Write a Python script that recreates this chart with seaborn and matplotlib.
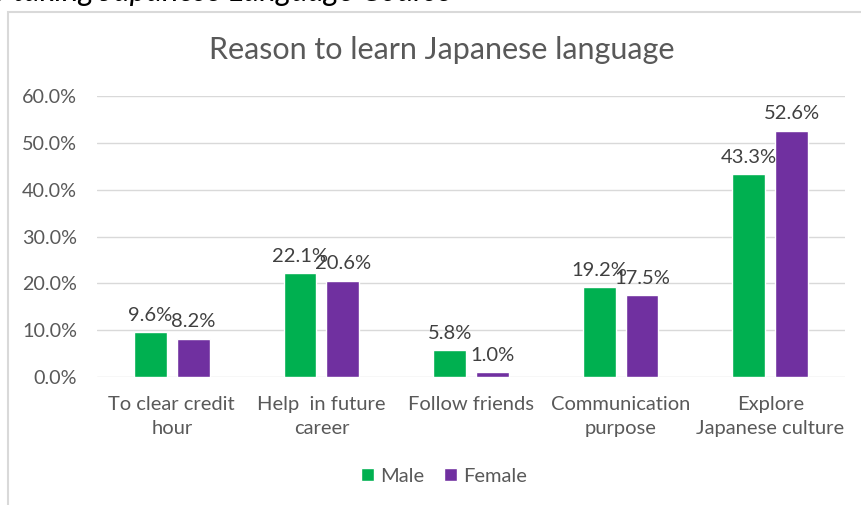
import pandas as pd
import matplotlib.pyplot as plt
import seaborn as sns
from matplotlib.patches import Rectangle
from matplotlib.ticker import PercentFormatter

# Data
reasons = ['To clear credit\nhour', 'Help  in future\ncareer', 'Follow friends',
           'Communication\npurpose', 'Explore\nJapanese culture']
male = [9.6, 22.1, 5.8, 19.2, 43.3]
female = [8.2, 20.6, 1.0, 17.5, 52.6]
genders = ['Male', 'Female']
colors = ['#00B050', '#7030A0']

df = pd.DataFrame({
    'reason': reasons * 2,
    'gender': ['Male'] * len(reasons) + ['Female'] * len(reasons),
    'share': male + female,
})

sns.set_style('white')
plt.rcParams['font.family'] = ['Lato', 'DejaVu Sans']

fig = plt.figure(figsize=(8.61, 5.05), dpi=100)
ax = fig.add_axes([97 / 861, 1 - 377 / 505, 748 / 861, 281 / 505])

sns.barplot(data=df, x='reason', y='share', hue='gender', hue_order=genders,
            palette=colors, saturation=1, width=0.57, gap=0.23, ax=ax, legend=True)

for cont in ax.containers:
    ax.bar_label(cont, fmt='%.1f%%', padding=6, fontsize=14.5, color='#404040')

ax.set_ylim(0, 60)
ax.set_xlim(-0.5, 4.5)
ax.set_yticks(range(0, 61, 10))
ax.yaxis.set_major_formatter(PercentFormatter(decimals=1))
ax.grid(axis='y', color='#D9D9D9', linewidth=1)
ax.set_axisbelow(True)
for s in ax.spines.values():
    s.set_visible(False)
ax.tick_params(axis='both', length=0, labelcolor='#595959')
ax.tick_params(axis='y', pad=14.5, labelsize=14.2)
ax.tick_params(axis='x', pad=14, labelsize=14.5)
for lbl in ax.get_xticklabels():
    lbl.set_linespacing(1.45)
ax.set_xlabel('')
ax.set_ylabel('')

ax.legend(loc='center', bbox_to_anchor=(444 / 861, 1 - 476 / 505),
          bbox_transform=fig.transFigure, ncol=2, frameon=False,
          fontsize=14.5, labelcolor='#595959', handlelength=0.65, handleheight=0.65,
          handletextpad=0.3, columnspacing=1.0)

fig.text(442 / 861, 1 - 50 / 505, 'Reason to learn Japanese language',
         ha='center', va='center', fontsize=22, color='#595959')

# chart frame and cut-off caption above it
fig.patches.append(Rectangle((8 / 861, -0.1), 1.0, 1 - 12 / 505 + 0.1,
                             transform=fig.transFigure, fill=False,
                             edgecolor='#D9D9D9', linewidth=1.5))
fig.text(452 / 861, 1 - 1 / 505, 'of students taking Japanese Language Course',
         ha='right', va='baseline', fontsize=22.5, style='italic', color='#000000')

fig.savefig('out.png', dpi=100)
